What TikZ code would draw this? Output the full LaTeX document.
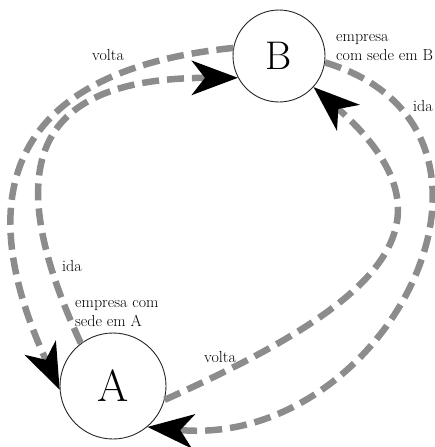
\documentclass[tikz,border=0pt]{standalone}
\usetikzlibrary{arrows.meta}
\definecolor{routegray}{RGB}{140,140,140}
\begin{document}
\begin{tikzpicture}[x=1pt,y=-1pt,
  place/.style={circle,draw=black!85,line width=0.9pt,fill=white,inner sep=0pt},
  trip/.style={draw=routegray,line width=6.5pt,dash pattern=on 17pt off 8pt,
    -{Stealth[black,length=46pt,width=34pt,inset=13pt]}},
  lbl/.style={font=\fontsize{16}{19}\selectfont,inner sep=0pt,align=left}]
\useasboundingbox (0,0) rectangle (435,447);

% the two companies
\node[place,minimum size=92pt,font=\fontsize{40}{40}\selectfont] (B) at (279,56) {B};
\node[place,minimum size=106pt,font=\fontsize{45}{45}\selectfont] (A) at (113,386) {A};

% trips between A and B
\draw[trip] (B.170) .. controls (23,69) and (-37,181) .. (A.184);
\draw[trip] (A.127) .. controls (-4,161) and (37,78) .. (B.208);
\draw[trip] (A.345) .. controls (374,306) and (470,225) .. (B.318);
\draw[trip] (B.352) .. controls (548,130) and (388,450) .. (A.310);

% labels
\node[lbl,anchor=base west] (voltaL) at (92,60) {volta};
\node[lbl,anchor=base west] (idaR) at (413,111) {ida};
\node[lbl,anchor=base west] (idaL) at (62,271) {ida};
\node[lbl,anchor=base west] (voltaR) at (204,362) {volta};
\node[lbl,anchor=north west] (labB) at (336,34) {empresa\\com sede em B};
\node[lbl,anchor=north west] (labA) at (75,300) {empresa com\\sede em A};
\end{tikzpicture}
\end{document}
